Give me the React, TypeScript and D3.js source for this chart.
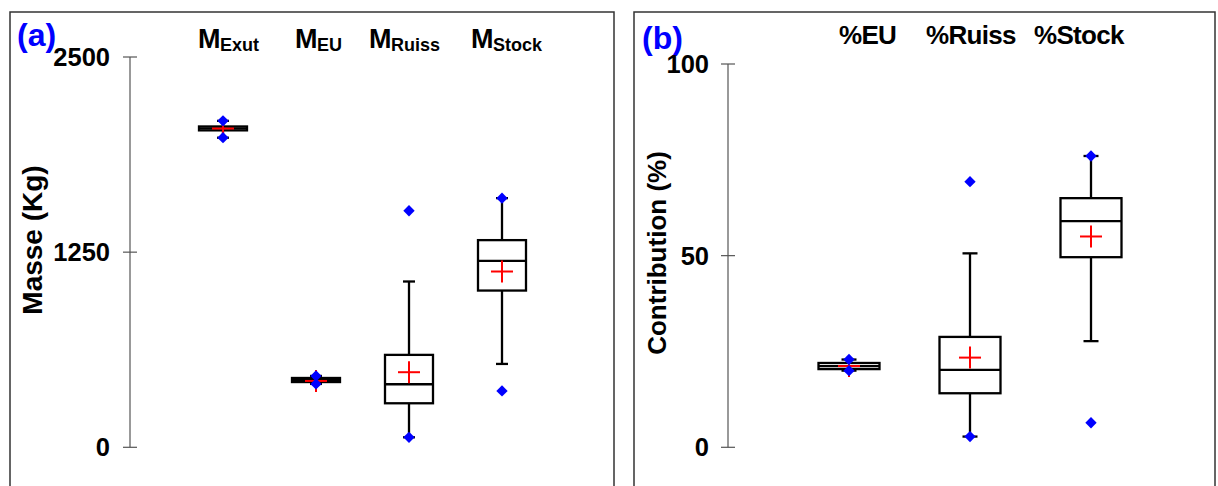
import React from "react";
import * as d3 from "d3";

// ---------- data ----------
const massCats = ["Exut", "EU", "Ruiss", "Stock"];
const massWhiskerLo = [1983, 406, 64, 534];
const massQ1 = [2030, 418, 282, 1004];
const massMedian = [2043, 431, 404, 1194];
const massQ3 = [2055, 444, 592, 1327];
const massWhiskerHi = [2091, 457, 1062, 1596];
const massMean = [2042, 425, 481, 1126];
const massMin = [1983, 406, 64, 361];
const massMax = [2091, 457, 1515, 1596];
const massTicks = [0, 1250, 2500];

const pctCats = ["EU", "Ruiss", "Stock"];
const pctWhiskerLo = [20.0, 2.8, 27.7];
const pctQ1 = [20.4, 14.1, 49.6];
const pctMedian = [21.2, 20.2, 59.0];
const pctQ3 = [22.0, 28.8, 65.0];
const pctWhiskerHi = [22.9, 50.6, 76.0];
const pctMean = [21.2, 23.4, 55.0];
const pctMin = [20.0, 2.8, 6.4];
const pctMax = [22.9, 69.3, 76.0];
const pctTicks = [0, 50, 100];

const FONT = "'Liberation Sans', Arial, Helvetica, sans-serif";
const BLUE = "#0000ff";

type Stat = { lo: number; q1: number; med: number; q3: number; hi: number; mean: number; min: number; max: number };

function build(lo: number[], q1: number[], med: number[], q3: number[], hi: number[], mean: number[], min: number[], max: number[]): Stat[] {
  return lo.map((_, i) => ({ lo: lo[i], q1: q1[i], med: med[i], q3: q3[i], hi: hi[i], mean: mean[i], min: min[i], max: max[i] }));
}

const diamondPath = d3.symbol(d3.symbolSquare, 64)() as string;

function Boxes({ stats, x, y, halfW, capW }: { stats: Stat[]; x: (v: number) => number; y: d3.ScaleLinear<number, number>; halfW: number; capW: number }) {
  const sw = 2.3;
  return (
    <g>
      {stats.map((s, i) => {
        const cx = x(i + 1);
        const points = [s.min, s.max];
        return (
          <g key={i}>
            <line x1={cx} x2={cx} y1={y(s.q3)} y2={y(s.hi)} stroke="#000" strokeWidth={sw} />
            <line x1={cx} x2={cx} y1={y(s.q1)} y2={y(s.lo)} stroke="#000" strokeWidth={sw} />
            <line x1={cx - capW / 2} x2={cx + capW / 2} y1={y(s.hi)} y2={y(s.hi)} stroke="#000" strokeWidth={sw} />
            <line x1={cx - capW / 2} x2={cx + capW / 2} y1={y(s.lo)} y2={y(s.lo)} stroke="#000" strokeWidth={sw} />
            <rect x={cx - halfW} y={y(s.q3)} width={halfW * 2} height={Math.max(0.5, y(s.q1) - y(s.q3))} fill="none" stroke="#000" strokeWidth={sw} />
            <line x1={cx - halfW} x2={cx + halfW} y1={y(s.med)} y2={y(s.med)} stroke="#000" strokeWidth={sw} />
            <line x1={cx - 11} x2={cx + 11} y1={y(s.mean)} y2={y(s.mean)} stroke="#ff0000" strokeWidth={2} />
            <line x1={cx} x2={cx} y1={y(s.mean) - 11} y2={y(s.mean) + 11} stroke="#ff0000" strokeWidth={2} />
            {points.map((p, j) => (
              <path key={j} d={diamondPath} transform={`translate(${cx},${y(p)}) rotate(45)`} fill={BLUE} />
            ))}
          </g>
        );
      })}
    </g>
  );
}

function Axis({ x0, y, ticks, labelX }: { x0: number; y: d3.ScaleLinear<number, number>; ticks: number[]; labelX: number }) {
  const [d0, d1] = y.domain();
  return (
    <g>
      <line x1={x0} x2={x0} y1={y(d1)} y2={y(d0)} stroke="#555" strokeWidth={1.2} />
      {ticks.map((t) => (
        <g key={t}>
          <line x1={x0 - 7} x2={x0 + 7} y1={y(t)} y2={y(t)} stroke="#555" strokeWidth={1.2} />
          <text x={labelX} y={y(t)} textAnchor="end" dominantBaseline="central" fontFamily={FONT} fontWeight="bold" fontSize={25.5} fill="#000">
            {t}
          </text>
        </g>
      ))}
    </g>
  );
}

export default function App() {
  const massStats = build(massWhiskerLo, massQ1, massMedian, massQ3, massWhiskerHi, massMean, massMin, massMax);
  const pctStats = build(pctWhiskerLo, pctQ1, pctMedian, pctQ3, pctWhiskerHi, pctMean, pctMin, pctMax);

  const yA = d3.scaleLinear().domain([0, 2500]).range([447.3, 57]);
  const xA = d3.scaleLinear().domain([0, 5]).range([130, 595]);
  const yB = d3.scaleLinear().domain([0, 100]).range([447.3, 64]);
  const xB = d3.scaleLinear().domain([0, 4]).range([728, 1212]);

  const massLabelX = [198, 295, 369, 471];
  const pctLabelX = [839, 926, 1034];

  return (
    <svg width={1218} height={486} style={{ position: "absolute", left: 0, top: 0, background: "#fff" }}>
      <rect x={0} y={0} width={1218} height={486} fill="#fff" />
      {/* frames */}
      <rect x={10} y={12} width={604} height={500} fill="none" stroke="#333" strokeWidth={1.5} />
      <rect x={634} y={12} width={581} height={500} fill="none" stroke="#333" strokeWidth={1.5} />

      {/* panel a */}
      <text x={17} y={46} fontFamily={FONT} fontWeight="bold" fontSize={32} fill={BLUE}>(a)</text>
      <Axis x0={130} y={yA} ticks={massTicks} labelX={110} />
      <text transform="translate(42,240) rotate(-90)" textAnchor="middle" fontFamily={FONT} fontWeight="bold" fontSize={28} fill="#000">
        Masse (Kg)
      </text>
      {massCats.map((c, i) => (
        <text key={c} x={massLabelX[i]} y={48} fontFamily={FONT} fontWeight="bold" fontSize={27} fill="#000" letterSpacing={-0.5}>
          M
          <tspan fontSize={18} dy={3} letterSpacing={0}>{c}</tspan>
        </text>
      ))}
      <Boxes stats={massStats} x={xA} y={yA} halfW={24} capW={12} />

      {/* panel b */}
      <text x={642} y={49} fontFamily={FONT} fontWeight="bold" fontSize={32} fill={BLUE}>(b)</text>
      <Axis x0={728} y={yB} ticks={pctTicks} labelX={709} />
      <text transform="translate(666,253) rotate(-90)" textAnchor="middle" fontFamily={FONT} fontWeight="bold" fontSize={26} fill="#000">
        Contribution (%)
      </text>
      {pctCats.map((c, i) => (
        <text key={c} x={pctLabelX[i]} y={44} fontFamily={FONT} fontWeight="bold" fontSize={26} fill="#000" letterSpacing={-0.7}>
          %{c}
        </text>
      ))}
      <Boxes stats={pctStats} x={xB} y={yB} halfW={30.5} capW={15} />
    </svg>
  );
}
